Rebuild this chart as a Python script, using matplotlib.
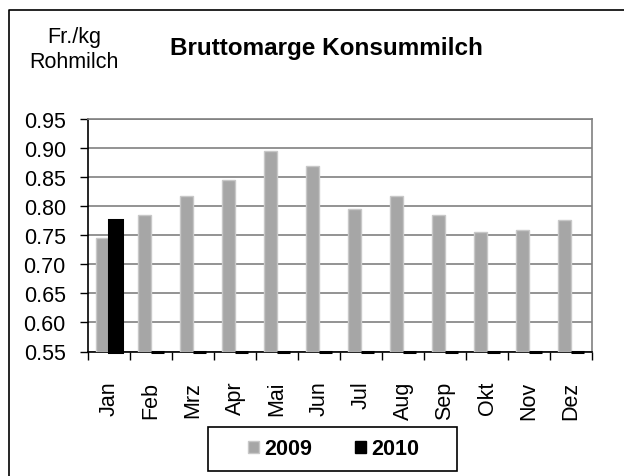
import matplotlib
matplotlib.use("Agg")
import matplotlib.pyplot as plt
from matplotlib.lines import Line2D
from matplotlib.patches import Patch, Rectangle
import numpy as np

plt.rcParams['font.family'] = ['Liberation Sans', 'DejaVu Sans']

months = ["Jan", "Feb", "Mrz", "Apr", "Mai", "Jun", "Jul", "Aug", "Sep", "Okt", "Nov", "Dez"]
values_2009 = [0.746, 0.785, 0.818, 0.845, 0.895, 0.869, 0.795, 0.818, 0.785, 0.756, 0.759, 0.776]
values_2010 = [0.776, 0, 0, 0, 0, 0, 0, 0, 0, 0, 0, 0]
series_names = ["2009", "2010"]
yticks = [0.55, 0.60, 0.65, 0.70, 0.75, 0.80, 0.85, 0.90, 0.95]

W, H = 624, 477
fig = plt.figure(figsize=(W / 100, H / 100), dpi=100)
ax = fig.add_axes([88 / W, 1 - 352.5 / H, (592 - 88) / W, (352.5 - 120) / H])

ymin, ymax = 0.55, 0.95
x = np.arange(len(months))
bw = 0.30
off = 0.16

h09 = [max(v - ymin, 0) for v in values_2009]
h10 = [max(v - ymin, 0) for v in values_2010]
ax.bar(x - off, h09, bw, bottom=ymin, color="#A6A6A6", edgecolor="#C8C8C8", linewidth=1.0, zorder=3)
ax.bar(x + off, h10, bw, bottom=ymin, color="#000000", edgecolor="#000000", linewidth=2.2, zorder=3, clip_on=False)

ax.set_xlim(-0.5, len(months) - 0.5)
ax.set_ylim(ymin, ymax)
ax.set_yticks(yticks)
ax.set_yticklabels([f"{t:.2f}" for t in yticks], fontsize=15.5)
ax.set_xticks(x)
ax.set_xticklabels(months, rotation=90, fontsize=15.5)
ax.tick_params(axis='x', which='major', length=0, pad=21)
ax.set_xticks(np.arange(-0.5, len(months)), minor=True)
ax.tick_params(axis='x', which='minor', length=6, width=1, direction='out', color='black')
ax.tick_params(axis='y', length=6, width=1, direction='out', color='black', pad=10)

ax.yaxis.grid(True, color="#808080", linewidth=1.2, zorder=0)
ax.set_axisbelow(True)
for s in ['top', 'right']:
    ax.spines[s].set_color("#808080")
    ax.spines[s].set_linewidth(1.2)
ax.spines['left'].set_color('black')
ax.spines['bottom'].set_color('black')
ax.spines['left'].set_linewidth(1.2)
ax.spines['bottom'].set_linewidth(1.2)

fig.text(326 / W, 1 - 48 / H, "Bruttomarge Konsummilch", ha='center', va='center',
         fontsize=17.5, fontweight='bold')
fig.text(74 / W, 1 - 38 / H, "Fr./kg", ha='center', va='center', fontsize=15.5)
fig.text(74 / W, 1 - 63 / H, "Rohmilch", ha='center', va='center', fontsize=15.5)

# outer frame
fig.add_artist(Line2D([9 / W, 9 / W, 1.0], [0.0, 1 - 10.5 / H, 1 - 10.5 / H],
                      transform=fig.transFigure, color='black', linewidth=1.2))

# legend box
fig.add_artist(Rectangle((208 / W, 1 - 472 / H), (457 - 208) / W, (472 - 428) / H,
                         transform=fig.transFigure, facecolor='white', edgecolor='black',
                         linewidth=1.2))
handles = [Patch(facecolor="#A6A6A6", edgecolor="#C8C8C8", label=series_names[0]),
           Patch(facecolor="#000000", edgecolor="#000000", label=series_names[1])]
leg = fig.legend(handles=handles, loc='center', bbox_to_anchor=(334 / W, 1 - 450 / H),
                 ncol=2, frameon=False, prop={'weight': 'bold', 'size': 15.5},
                 handlelength=0.5, handleheight=0.5, handletextpad=0.25, columnspacing=2.0,
                 borderpad=0.3)
leg.set_zorder(5)

fig.savefig("out.png", dpi=100, facecolor='white')
